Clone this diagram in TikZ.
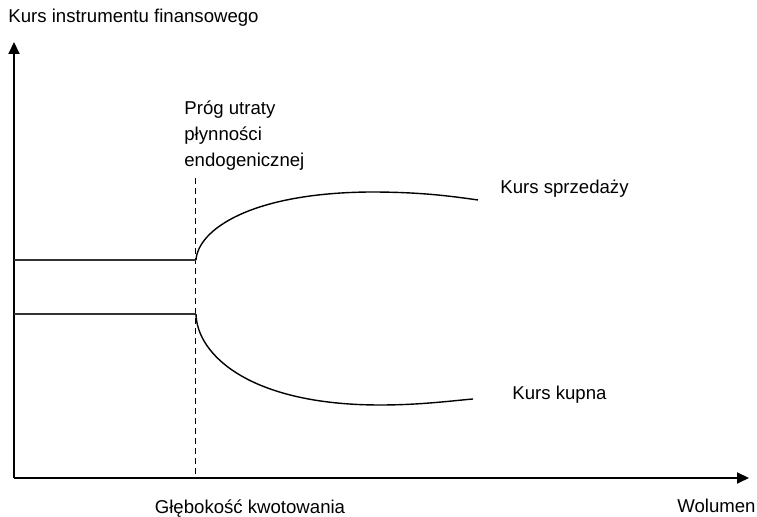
\documentclass[tikz,border=0pt]{standalone}
\usepackage{fontspec}
\setmainfont{Liberation Sans}
\usetikzlibrary{arrows.meta}

\begin{document}
\begin{tikzpicture}[x=0.5pt,y=-0.5pt,
    lbl/.style={inner sep=0pt,font=\fontsize{9.3}{13}\selectfont},
    axis/.style={line width=1pt,-{Triangle[length=6pt,width=5.5pt]}},
    curve/.style={line width=0.7pt}]
    \useasboundingbox (0,0) rectangle (757,517);

    \coordinate (o) at (14,478);
    \coordinate (ytip) at (14,42);
    \coordinate (xtip) at (749,478);
    \coordinate (d1) at (195,178);
    \coordinate (d2) at (195,478);
    \coordinate (s0) at (14,260);
    \coordinate (s1) at (196,260);
    \coordinate (s2) at (370,192);
    \coordinate (s3) at (478,200);
    \coordinate (k0) at (14,314);
    \coordinate (k1) at (196,314);
    \coordinate (k2) at (380,405);
    \coordinate (k3) at (473,399);

    \node[lbl,anchor=west] (ylab) at (8,18) {Kurs instrumentu finansowego};
    \node[lbl] (xlab) at (250,509) {Głębokość kwotowania};
    \node[lbl,anchor=east] (wol) at (756,506) {Wolumen};
    \node[lbl,anchor=north west,align=left] (prog) at (184,100) {Próg utraty\\płynności\\endogenicznej};
    \node[lbl,anchor=west] (sprz) at (500,189) {Kurs sprzedaży};
    \node[lbl,anchor=west] (kup) at (512,395) {Kurs kupna};

    \draw[axis] (o) -- (ytip);
    \draw[axis] (o) -- (xtip);
    \draw[line width=0.5pt,dash pattern=on 3pt off 2pt] (d1) -- (d2);

    \draw[curve,black!80] (s0) -- (s1);
    \draw[curve,black!80] (k0) -- (k1);
    \draw[curve] (s1) .. controls (198,230) and (250,193) .. (s2)
        .. controls (420,192) and (450,196) .. (s3);
    \draw[curve] (k1) .. controls (197,355) and (250,405) .. (k2)
        .. controls (420,405) and (450,401) .. (k3);
\end{tikzpicture}
\end{document}
